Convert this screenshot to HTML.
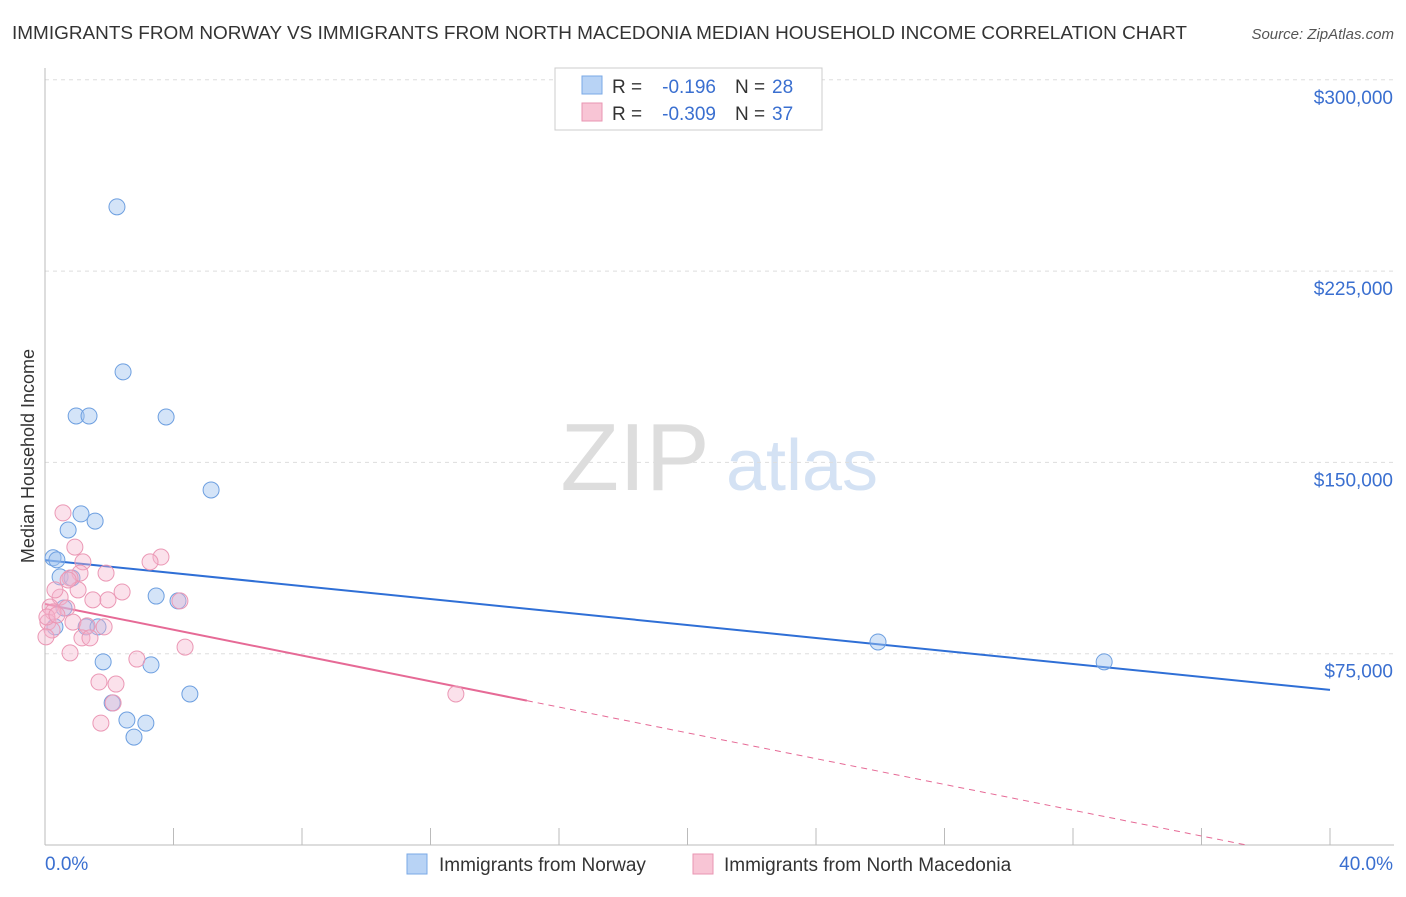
<!DOCTYPE html>
<html><head><meta charset="utf-8"><style>
body{margin:0;background:#fff;font-family:"Liberation Sans",sans-serif;}
svg text{font-family:"Liberation Sans",sans-serif;}
</style></head><body>
<svg id="chart" width="1406" height="892" xmlns="http://www.w3.org/2000/svg">
<text x="12" y="39" font-size="18" fill="#333" textLength="1175" lengthAdjust="spacingAndGlyphs">IMMIGRANTS FROM NORWAY VS IMMIGRANTS FROM NORTH MACEDONIA MEDIAN HOUSEHOLD INCOME CORRELATION CHART</text>
<text x="1394" y="39" font-size="15" fill="#555" font-style="italic" text-anchor="end">Source: ZipAtlas.com</text>
<text x="34" y="456" font-size="18" fill="#333" text-anchor="middle" transform="rotate(-90 34 456)">Median Household Income</text>
<g>
<text x="635" y="490" font-size="96" fill="#ddd" font-family="Liberation Serif" text-anchor="middle">ZIP</text>
<text x="802" y="490" font-size="72" fill="#d4e2f4" text-anchor="middle">atlas</text>
</g>
<g id="grid"></g><g id="axes"></g><g id="lines"></g><g id="pts"></g>
<g>
<rect x="555" y="68" width="267" height="62" fill="#fff" stroke="#ccc"/>
<rect x="582" y="76" width="20" height="18" fill="#b8d3f5" stroke="#7aa8e6"/>
<text x="612" y="93" font-size="19" fill="#333">R =</text>
<text x="716" y="93" font-size="19" fill="#3a6fd0" text-anchor="end">-0.196</text>
<text x="735" y="93" font-size="19" fill="#333">N =</text>
<text x="772" y="93" font-size="19" fill="#3a6fd0">28</text>
<rect x="582" y="103" width="20" height="18" fill="#f8c5d5" stroke="#e995b2"/>
<text x="612" y="120" font-size="19" fill="#333">R =</text>
<text x="716" y="120" font-size="19" fill="#3a6fd0" text-anchor="end">-0.309</text>
<text x="735" y="120" font-size="19" fill="#333">N =</text>
<text x="772" y="120" font-size="19" fill="#3a6fd0">37</text>
</g>
<g>
<rect x="407" y="854" width="20" height="20" fill="#b8d3f5" stroke="#7aa8e6"/>
<text x="439" y="871" font-size="19" fill="#333">Immigrants from Norway</text>
<rect x="693" y="854" width="20" height="20" fill="#f8c5d5" stroke="#e995b2"/>
<text x="724" y="871" font-size="19" fill="#333">Immigrants from North Macedonia</text>
</g>
</svg>
<script>
const yTicks=[75000,150000,225000,300000];
const yTickLabels=["$75,000","$150,000","$225,000","$300,000"];
const xTicks=[0,4,8,12,16,20,24,28,32,36,40];
const norwayX=[2.24,2.43,0.97,1.37,3.77,5.17,1.12,1.56,0.72,0.25,0.37,0.47,0.84,0.59,0.31,1.28,1.65,3.46,4.14,1.81,3.30,4.51,2.09,2.55,3.14,2.77,25.93,32.97];
const norwayY=[250.2,185.5,168.2,168.2,167.8,139.2,129.8,127.0,123.5,112.6,111.8,105.1,104.7,92.9,85.5,85.5,85.5,97.6,95.7,71.8,70.6,59.2,55.7,49.0,47.8,42.3,79.6,71.8];
const macX=[0.56,0.93,1.18,3.61,3.27,1.09,1.90,0.78,1.03,2.40,0.47,1.49,1.96,4.20,0.16,0.68,0.25,0.87,1.31,1.84,0.09,0.22,0.03,1.15,1.40,0.78,2.86,4.36,1.68,2.21,2.12,1.74,12.79,0.06,0.31,0.72,0.37];
const macY=[130.2,116.8,111.0,112.9,111.0,106.6,106.6,104.7,100.0,99.2,97.2,96.1,96.1,95.7,93.3,92.9,91.4,87.4,85.9,85.5,87.4,84.3,81.6,81.2,81.2,75.3,72.9,77.6,63.9,63.1,55.7,47.8,59.2,89.4,100.0,103.9,90.2];
const norwayTrend=[111.7,60.8];
const macTrend=[94.5,-2.527,15.0];
const NS="http://www.w3.org/2000/svg";
const X=v=>45+v/40*1285;
const Y=v=>845-v/75000*191.3;
function mk(tag,attrs,parent){const e=document.createElementNS(NS,tag);for(const k in attrs)e.setAttribute(k,attrs[k]);document.getElementById(parent).appendChild(e);return e;}
yTicks.forEach((t,i)=>{
 const g=mk('line',{x1:45,x2:1394,y1:Y(t),y2:Y(t),stroke:'#ddd','stroke-dasharray':'4,4'},'grid');
 
 
 const l=mk('text',{x:1393,y:Y(t)+24,'font-size':19,fill:'#3a6fd0','text-anchor':'end'},'axes');
 l.textContent=yTickLabels[i];
 
 
});
const ax=mk('line',{x1:45,x2:1394,y1:845,y2:845,stroke:'#bbb'},'axes');


const ay=mk('line',{x1:45,x2:45,y1:68,y2:845,stroke:'#bbb'},'axes');


xTicks.forEach(t=>{
 const k=mk('line',{x1:X(t),x2:X(t),y1:828,y2:845,stroke:'#bbb'},'axes');
 
 
});
const xl0=mk('text',{x:45,y:870,'font-size':19,fill:'#3a6fd0'},'axes');xl0.textContent=xTicks[0].toFixed(1)+'%';


const xl1=mk('text',{x:1393,y:870,'font-size':19,fill:'#3a6fd0','text-anchor':'end'},'axes');xl1.textContent=xTicks[xTicks.length-1].toFixed(1)+'%';


norwayX.forEach((x,i)=>{
 const c=mk('circle',{cx:X(x),cy:Y(norwayY[i]*1000),r:8,fill:'rgba(160,195,240,0.45)',stroke:'#6d9fe0','stroke-width':1},'pts');
 
 
});
macX.forEach((x,i)=>{
 const c=mk('circle',{cx:X(x),cy:Y(macY[i]*1000),r:8,fill:'rgba(245,180,205,0.4)',stroke:'#eb98b5','stroke-width':1},'pts');
 
 
});
const bl=mk('line',{x1:X(0),y1:Y(norwayTrend[0]*1000),x2:X(40),y2:Y(norwayTrend[1]*1000),stroke:'#2f6fd6','stroke-width':2},'lines');


const pEnd=macTrend[2], pZero=-macTrend[0]/macTrend[1];
const pl=mk('line',{x1:X(0),y1:Y(macTrend[0]*1000),x2:X(pEnd),y2:Y((macTrend[0]+macTrend[1]*pEnd)*1000),stroke:'#e66a96','stroke-width':2},'lines');


const pd=mk('line',{x1:X(pEnd),y1:Y((macTrend[0]+macTrend[1]*pEnd)*1000),x2:X(pZero),y2:Y(0),stroke:'#e66a96','stroke-width':1,'stroke-dasharray':'6,5'},'lines');


</script>
</body></html>
